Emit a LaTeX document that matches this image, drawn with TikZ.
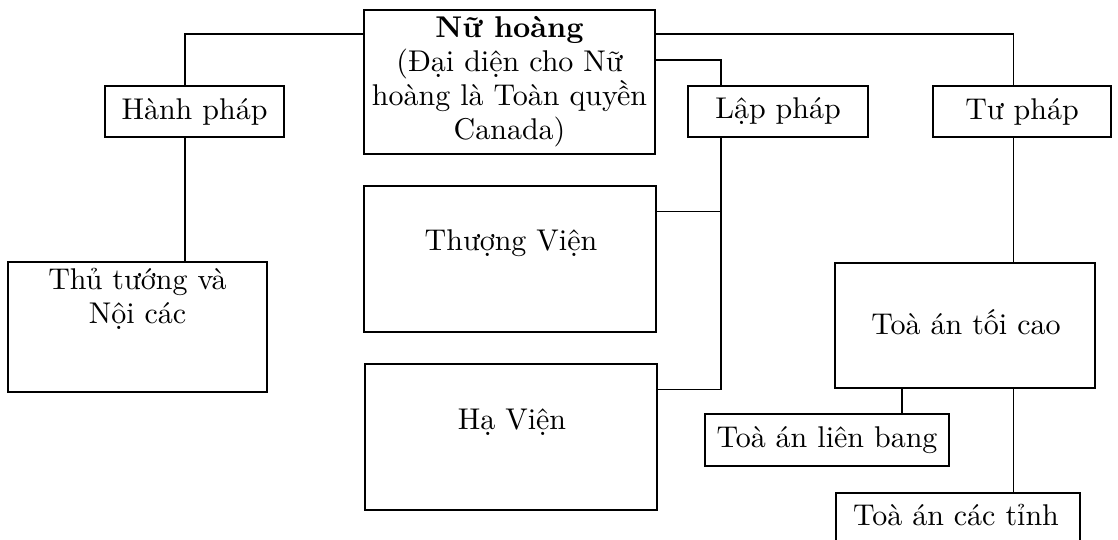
\documentclass[tikz,border=0pt]{standalone}
\usepackage{fontspec}
\setmainfont{lmroman10-regular.otf}[BoldFont=lmroman10-bold.otf]
\usetikzlibrary{calc}
\begin{document}
\begin{tikzpicture}[x=1pt,y=-1pt,
  box/.style={draw, line width=1.5pt, inner sep=0pt, align=center, font=\fontsize{30}{34}\selectfont},
  lbl/.style={inner sep=0pt, align=center, font=\fontsize{30}{34}\selectfont},
  conn/.style={line width=1.5pt}]
\useasboundingbox (0,0) rectangle (1118,540);
\clip (0,0) rectangle (1118,540);
% boxes
\node[box, minimum width=291pt, minimum height=144pt] (queen) at (509.5,82)
  {\textbf{Nữ hoàng}\\(Đại diện cho Nữ\\hoàng là Toàn quyền\\Canada)};
\node[box, minimum width=179pt, minimum height=51pt] (hanh) at (194.5,111.5) {Hành pháp};
\node[box, minimum width=259pt, minimum height=130pt] (thutuong) at (137.5,327) {};
\node[lbl] (thutuongtxt) at (137.5,299) {Thủ tướng và\\Nội các};
\node[box, minimum width=292pt, minimum height=146pt] (thuong) at (510,259) {};
\node[lbl] (thuongtxt) at (511,243) {Thượng Viện};
\node[box, minimum width=292pt, minimum height=146pt] (havien) at (511,437) {};
\node[lbl] (haviencxt) at (512,422) {Hạ Viện};
\node[box, minimum width=180pt, minimum height=51pt] (lap) at (778,111.5) {Lập pháp};
\node[box, minimum width=178pt, minimum height=51pt] (tu) at (1022,111.5) {Tư pháp};
\node[box, minimum width=260pt, minimum height=125pt] (toicao) at (965,325.5) {};
\node[lbl] (toicaotxt) at (966,322) {Toà án tối cao};
\node[box, minimum width=244pt, minimum height=52pt] (lienbang) at (827,440) {Toà án liên bang};
\node[box, minimum width=244pt, minimum height=97pt] (cactinh) at (958,541.5) {};
\node[lbl] (cactinhtxt) at (956,515) {Toà án các tỉnh};
% connector coordinates
\coordinate (qa) at ($(queen.north west)+(0,25)$);
\coordinate (ha) at ($(hanh.north)+(-9.5,0)$);
\coordinate (qb) at ($(queen.north east)+(0,51)$);
\coordinate (la) at ($(lap.north)+(-57,0)$);
\coordinate (tc) at ($(thuong.north east)+(0,26)$);
\coordinate (hc) at ($(havien.north east)+(0,26)$);
\coordinate (qc) at ($(queen.north east)+(0,25)$);
\coordinate (ta) at ($(tu.north)+(-8.5,0)$);
\coordinate (lb) at ($(lienbang.north)+(75,0)$);
% connectors
\draw[conn] (qa) -| (ha);
\draw[conn] (hanh.south -| ha) -- (thutuong.north -| ha);
\draw[conn] (qb) -| (la);
\draw[conn] (lap.south -| la) |- (hc);
\draw[conn] (tc) -- (tc -| la);
\draw[conn] (qc) -| (ta);
\draw[conn] (tu.south -| ta) -- (toicao.north -| ta);
\draw[conn] (toicao.south -| lb) -- (lb);
\draw[conn] (toicao.south -| ta) -- (cactinh.north -| ta);
\end{tikzpicture}
\end{document}
